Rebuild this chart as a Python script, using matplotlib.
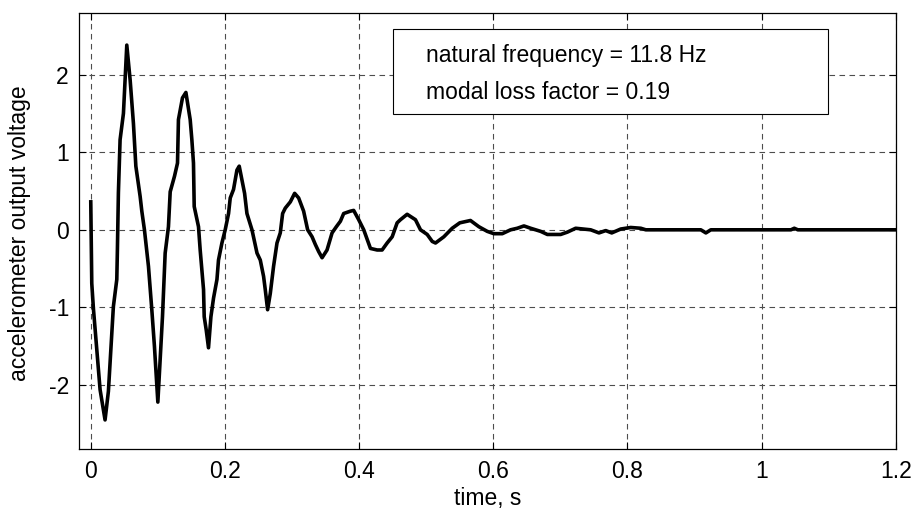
import matplotlib
matplotlib.use("Agg")
import matplotlib.pyplot as plt
from matplotlib.patches import Rectangle

# time (s) and accelerometer output voltage
time_s = [0.000, 0.0015, 0.0039, 0.0090, 0.0139, 0.0213, 0.0263, 0.0313, 0.0337, 0.0388,
          0.0397, 0.0412, 0.0437, 0.0487, 0.0537, 0.0587, 0.0636, 0.0672, 0.0736, 0.0761,
          0.0800, 0.0860, 0.0910, 0.0949, 0.1000, 0.1034, 0.1069, 0.1109, 0.1158, 0.1184,
          0.1248, 0.1293, 0.1307, 0.1367, 0.1418, 0.1482, 0.1507, 0.1531, 0.1542, 0.1606,
          0.1631, 0.1681, 0.1691, 0.1721, 0.1755, 0.1791, 0.1830, 0.1881, 0.1904, 0.1955,
          0.2004, 0.2054, 0.2079, 0.2128, 0.2179, 0.2213, 0.2254, 0.2293, 0.2328, 0.2403,
          0.2478, 0.2527, 0.2576, 0.2601, 0.2636, 0.2676, 0.2725, 0.2776, 0.2825, 0.2860,
          0.2900, 0.2975, 0.3039, 0.3099, 0.3173, 0.3233, 0.3299, 0.3348, 0.3397, 0.3448,
          0.3522, 0.3597, 0.3661, 0.3721, 0.3770, 0.3870, 0.3919, 0.3994, 0.4069, 0.4169,
          0.4269, 0.4343, 0.4418, 0.4493, 0.4567, 0.4616, 0.4716, 0.4840, 0.4915, 0.5015,
          0.5090, 0.5139, 0.5263, 0.5388, 0.5501, 0.5660, 0.5785, 0.5910, 0.6009, 0.6134,
          0.6258, 0.6358, 0.6457, 0.6557, 0.6706, 0.6806, 0.7004, 0.7104, 0.7228, 0.7452,
          0.7576, 0.7676, 0.7766, 0.7900, 0.8049, 0.8199, 0.8274, 0.9094, 0.9169, 0.9243,
          1.0437, 1.0487, 1.0540, 1.2000]
voltage = [0.36, -0.69, -1.01, -1.55, -2.06, -2.45, -2.08, -1.33, -0.99, -0.64,
           -0.26, 0.48, 1.16, 1.50, 2.38, 1.93, 1.37, 0.82, 0.43, 0.24,
           0.00, -0.47, -1.03, -1.50, -2.22, -1.68, -1.12, -0.30, 0.04, 0.49,
           0.69, 0.86, 1.42, 1.70, 1.77, 1.42, 1.16, 0.86, 0.30, 0.04,
           -0.26, -0.77, -1.12, -1.29, -1.52, -1.12, -0.88, -0.64, -0.39, -0.17,
           0.00, 0.21, 0.41, 0.52, 0.77, 0.82, 0.64, 0.47, 0.21, 0.00,
           -0.30, -0.39, -0.60, -0.77, -1.03, -0.82, -0.47, -0.17, -0.04, 0.21,
           0.28, 0.36, 0.47, 0.41, 0.24, 0.00, -0.09, -0.19, -0.28, -0.36,
           -0.26, -0.04, 0.04, 0.11, 0.21, 0.24, 0.25, 0.13, 0.00, -0.24,
           -0.26, -0.26, -0.17, -0.09, 0.09, 0.13, 0.20, 0.13, 0.00, -0.06,
           -0.15, -0.17, -0.09, 0.02, 0.09, 0.12, 0.04, -0.02, -0.05, -0.05,
           0.00, 0.02, 0.05, 0.02, -0.02, -0.06, -0.06, -0.03, 0.02, 0.00,
           -0.04, -0.01, -0.04, 0.01, 0.03, 0.02, 0.00, 0.00, -0.04, 0.00,
           0.00, 0.02, 0.00, 0.00]

x_ticks = [0, 0.2, 0.4, 0.6, 0.8, 1.0, 1.2]
x_tick_labels = ["0", "0.2", "0.4", "0.6", "0.8", "1", "1.2"]
y_ticks = [-2, -1, 0, 1, 2]
y_tick_labels = ["-2", "-1", "0", "1", "2"]
annotation_lines = ["natural frequency = 11.8 Hz", "modal loss factor = 0.19"]

plt.rcParams['font.family'] = ['Liberation Sans', 'DejaVu Sans']
FS = 16.5

fig = plt.figure(figsize=(9.15, 5.11), dpi=100)
ax = fig.add_axes([0.086, 0.122, 0.893, 0.852])

ax.plot(time_s, voltage, color='black', linewidth=2.6, solid_joinstyle='round')

ax.set_xlim(-0.018, 1.2)
ax.set_ylim(-2.82, 2.79)
ax.set_xticks(x_ticks)
ax.set_xticklabels(x_tick_labels)
ax.set_yticks(y_ticks)
ax.set_yticklabels(y_tick_labels)
ax.tick_params(direction='in', top=True, right=True, length=5, width=0.8,
               labelsize=FS, colors='black')
ax.tick_params(axis='x', pad=8)
ax.tick_params(axis='y', pad=7)
ax.grid(True, linestyle=(0, (5, 4)), color='#4d4d4d', linewidth=0.8)
for s in ax.spines.values():
    s.set_linewidth(0.9)

ax.set_xlabel("time, s", fontsize=FS, va='top')
ax.xaxis.set_label_coords(0.5, -0.088)
ax.set_ylabel("accelerometer output voltage", fontsize=FS, va='center')
ax.yaxis.set_label_coords(-0.072, 0.494)

box = Rectangle((0.3847, 0.768), 0.9168 - 0.3847, 0.9633 - 0.768,
                transform=ax.transAxes, facecolor='white', edgecolor='black',
                linewidth=0.8, zorder=5)
ax.add_patch(box)
ax.text(0.4251, 0.904, annotation_lines[0], transform=ax.transAxes,
        fontsize=FS, va='center', ha='left', zorder=6)
ax.text(0.4251, 0.819, annotation_lines[1], transform=ax.transAxes,
        fontsize=FS, va='center', ha='left', zorder=6)

fig.savefig("out.png", dpi=100)
